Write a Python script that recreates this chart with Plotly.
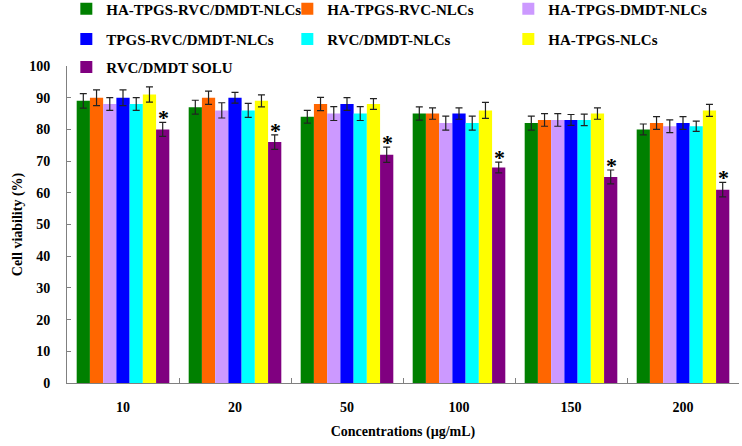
import plotly.graph_objects as go

categories = ["10", "20", "50", "100", "150", "200"]

series_names = [
    "HA-TPGS-RVC/DMDT-NLCs",
    "HA-TPGS-RVC-NLCs",
    "HA-TPGS-DMDT-NLCs",
    "TPGS-RVC/DMDT-NLCs",
    "RVC/DMDT-NLCs",
    "HA-TPGS-NLCs",
    "RVC/DMDT SOLU",
]

ha_tpgs_rvc_dmdt = [89, 87, 84, 85, 82, 80]
ha_tpgs_rvc = [90, 90, 88, 85, 83, 82]
ha_tpgs_dmdt = [88, 86, 85, 82, 83, 81]
tpgs_rvc_dmdt = [90, 90, 88, 85, 83, 82]
rvc_dmdt_nlc = [88, 86, 85, 82, 83, 81]
ha_tpgs_nlc = [91, 89, 88, 86, 85, 86]
rvc_dmdt_solu = [80, 76, 72, 68, 65, 61]

err_ha_tpgs_rvc_dmdt = [2.3, 2.2, 2.0, 2.1, 2.2, 1.7]
err_ha_tpgs_rvc = [2.5, 2.1, 2.1, 1.8, 2.0, 2.0]
err_ha_tpgs_dmdt = [2.0, 2.4, 2.2, 2.2, 2.0, 2.0]
err_tpgs_rvc_dmdt = [2.5, 1.7, 2.0, 1.8, 1.7, 2.0]
err_rvc_dmdt_nlc = [2.0, 2.2, 2.2, 2.2, 1.8, 1.6]
err_ha_tpgs_nlc = [2.4, 1.9, 1.7, 2.5, 1.8, 1.9]
err_rvc_dmdt_solu = [2.2, 2.3, 2.4, 1.7, 2.2, 2.3]

values = [ha_tpgs_rvc_dmdt, ha_tpgs_rvc, ha_tpgs_dmdt, tpgs_rvc_dmdt,
          rvc_dmdt_nlc, ha_tpgs_nlc, rvc_dmdt_solu]
errors = [err_ha_tpgs_rvc_dmdt, err_ha_tpgs_rvc, err_ha_tpgs_dmdt, err_tpgs_rvc_dmdt,
          err_rvc_dmdt_nlc, err_ha_tpgs_nlc, err_rvc_dmdt_solu]
colors = ["#008000", "#FF6600", "#CC99FF", "#0000FF", "#00FFFF", "#FFFF00", "#800080"]
legend_ids = ["legend", "legend", "legend", "legend2", "legend2", "legend2", "legend3"]

FONT = "Liberation Serif, Times New Roman, serif"

fig = go.Figure()
for name, vals, errs, col, lg in zip(series_names, values, errors, colors, legend_ids):
    fig.add_trace(go.Bar(
        name=name, x=categories, y=vals,
        marker=dict(color=col, line=dict(width=0)),
        error_y=dict(type="data", array=errs, visible=True,
                     color="#222222", thickness=1.2, width=3.5),
        legend=lg,
    ))

# significance markers above the RVC/DMDT SOLU bars (category index positions)
for idx, (v, e) in enumerate(zip(rvc_dmdt_solu, err_rvc_dmdt_solu)):
    fig.add_annotation(x=idx, y=v + e, text="<b>*</b>", showarrow=False,
                       xshift=40, yanchor="bottom", yshift=-10,
                       font=dict(family=FONT, size=22, color="black"))

legend_common = dict(orientation="h", xanchor="left", yanchor="middle",
                     entrywidth=176, entrywidthmode="pixels",
                     font=dict(family=FONT, size=15, color="black", weight="bold"),
                     bgcolor="rgba(0,0,0,0)", itemclick=False)

fig.update_layout(
    width=742, height=446,
    margin=dict(l=67, r=3, t=66, b=63, autoexpand=False),
    paper_bgcolor="white", plot_bgcolor="white",
    barmode="group", bargap=0.173, bargroupgap=0,
    font=dict(family=FONT, size=14, color="black", weight="bold"),
    showlegend=True,
    legend=dict(x=-0.001, y=1.18, **legend_common),
    legend2=dict(x=-0.001, y=1.084, **legend_common),
    legend3=dict(x=-0.001, y=0.996, **legend_common),
    xaxis=dict(
        type="category", tickson="boundaries", ticks="inside", ticklen=5,
        tickcolor="#808080", showline=True, linecolor="#808080", linewidth=1,
        showgrid=False, ticklabelstandoff=11, tickangle=0,
        tickfont=dict(family=FONT, size=14, color="black", weight="bold"),
        title=dict(text="Concentrations (µg/mL)", standoff=12,
                   font=dict(family=FONT, size=14, color="black", weight="bold")),
    ),
    yaxis=dict(
        range=[0, 100], dtick=10, ticks="inside", ticklen=4,
        tickcolor="#808080", showline=True, linecolor="#808080", linewidth=1,
        showgrid=False, zeroline=False, ticklabelstandoff=13,
        tickfont=dict(family=FONT, size=14, color="black", weight="bold"),
        title=dict(text="Cell viability (%)", standoff=3,
                   font=dict(family=FONT, size=14, color="black", weight="bold")),
    ),
)

# remove the browser's default 8px body margin so the figure fills the window
fig.write_html("out.html", config={"displayModeBar": False},
               post_script="document.body.style.margin='0px';")
